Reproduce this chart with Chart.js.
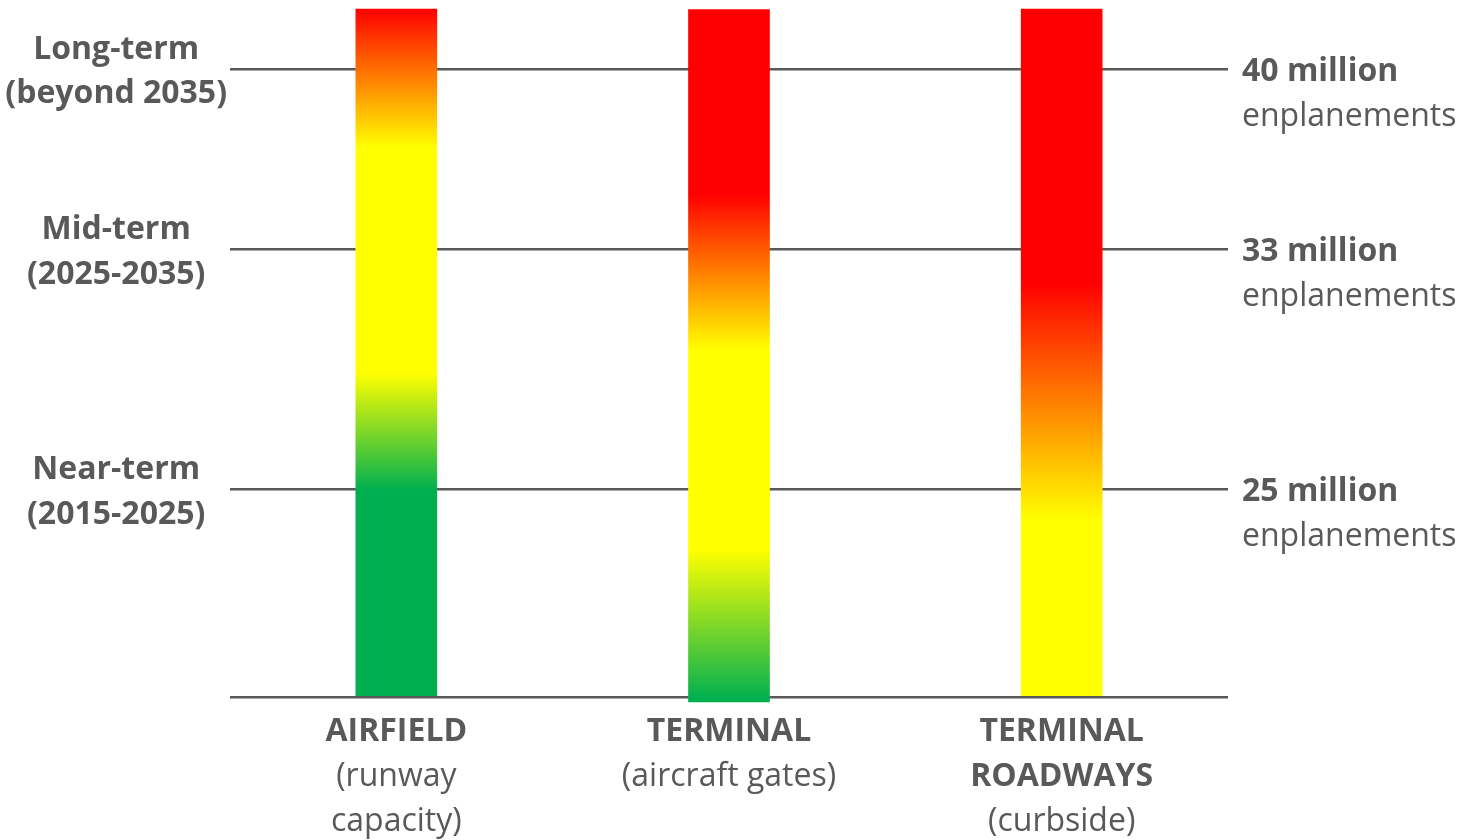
<!DOCTYPE html>
<html>
<head>
<meta charset="utf-8">
<script src="https://cdn.jsdelivr.net/npm/chart.js@4.4.0/dist/chart.umd.min.js"></script>
<style>
  html, body { margin: 0; padding: 0; background: #fff; }
  #wrap { width: 1468px; height: 840px; }
</style>
</head>
<body>
<div id="wrap"><canvas id="capacityChart"></canvas></div>
<script>
// facilities along the x axis
const facilities = ['AIRFIELD', 'TERMINAL', 'TERMINAL ROADWAYS'];
const facilityTitle = [['AIRFIELD'], ['TERMINAL'], ['TERMINAL', 'ROADWAYS']];
const facilityNote = [['(runway', 'capacity)'], ['(aircraft gates)'], ['(curbside)']];

// each bar covers the whole planning horizon (0 = today, 100 = top)
const barRange = [[0, 100], [-0.7, 99.9], [0, 100]];

// planning horizons on the y scale
const horizonValues = [30.2, 65.1, 91.3];
const horizonNames = [['Near-term', '(2015-2025)'], ['Mid-term', '(2025-2035)'], ['Long-term', '(beyond 2035)']];
const demandLevels = ['25 million', '33 million', '40 million'];

// capacity status along each bar: [value, colour]
const statusStops = [
    [[30.1, '#00B050'], [47.1, '#FFFF00'], [79.8, '#FFFF00'], [100, '#FF0000']],
    [[-0.4, '#00B050'], [21.4, '#FFFF00'], [50.4, '#FFFF00'], [73.0, '#FF0000']],
    [[25.7, '#FFFF00'], [60.2, '#FF0000']]
];

const textColor = '#595959';
const fontFamily = '"Open Sans", sans-serif';

function statusGradient(context) {
    const chart = context.chart;
    if (!chart.chartArea) return '#FFFF00';
    const y = chart.scales.y;
    const lo = -1, hi = 100;
    const g = chart.ctx.createLinearGradient(0, y.getPixelForValue(lo), 0, y.getPixelForValue(hi));
    statusStops[context.dataIndex].forEach(([v, c]) => {
        g.addColorStop(Math.min(1, Math.max(0, (v - lo) / (hi - lo))), c);
    });
    return g;
}

// text on the right (demand levels) and under the bars (facility names)
const labelPlugin = {
    id: 'labels',
    afterDraw(chart) {
        const ctx = chart.ctx;
        const y = chart.scales.y;
        ctx.save();
        ctx.fillStyle = textColor;
        ctx.textBaseline = 'middle';
        ctx.textAlign = 'left';
        horizonValues.forEach((v, i) => {
            const py = y.getPixelForValue(v);
            ctx.font = 'bold 32px ' + fontFamily;
            ctx.fillText(demandLevels[i], chart.chartArea.right + 14, py + 3);
            ctx.font = '32px ' + fontFamily;
            ctx.fillText('enplanements', chart.chartArea.right + 14, py + 48);
        });
        ctx.textAlign = 'center';
        chart.getDatasetMeta(0).data.forEach((bar, i) => {
            let py = 732;
            facilityTitle[i].forEach(t => {
                ctx.font = 'bold 32px ' + fontFamily;
                ctx.fillText(t, bar.x, py);
                py += 45;
            });
            facilityNote[i].forEach(t => {
                ctx.font = '32px ' + fontFamily;
                ctx.fillText(t, bar.x, py);
                py += 45;
            });
        });
        ctx.restore();
    }
};

const ctx1 = document.getElementById('capacityChart').getContext('2d');

const capacityChart = new Chart(ctx1, {
    type: 'bar',
    data: {
        labels: facilities,
        datasets: [{
            label: 'Capacity status',
            data: barRange,
            backgroundColor: statusGradient,
            borderWidth: 0,
            barThickness: 81,
            clip: false
        }]
    },
    plugins: [labelPlugin],
    options: {
        responsive: true,
        maintainAspectRatio: false,
        animation: false,
        layout: {
            padding: { top: 9, right: 240, bottom: 143, left: 0 }
        },
        plugins: {
            legend: { display: false },
            tooltip: { enabled: false }
        },
        scales: {
            x: {
                display: false
            },
            y: {
                min: 0,
                max: 100,
                afterBuildTicks: scale => {
                    scale.ticks = [0].concat(horizonValues).map(v => ({ value: v }));
                },
                afterFit: scale => {
                    scale.width = 230;
                    scale.paddingTop = 0;
                    scale.paddingBottom = 0;
                },
                grid: {
                    color: textColor,
                    lineWidth: 2.5,
                    drawTicks: false
                },
                border: { display: false },
                ticks: {
                    crossAlign: 'center',
                    padding: 3,
                    labelOffset: 3,
                    color: textColor,
                    font: { family: fontFamily, size: 32, weight: 'bold', lineHeight: 1.4 },
                    callback: (value, index) => index === 0 ? '' : horizonNames[index - 1]
                }
            }
        }
    }
});
</script>
</body>
</html>
